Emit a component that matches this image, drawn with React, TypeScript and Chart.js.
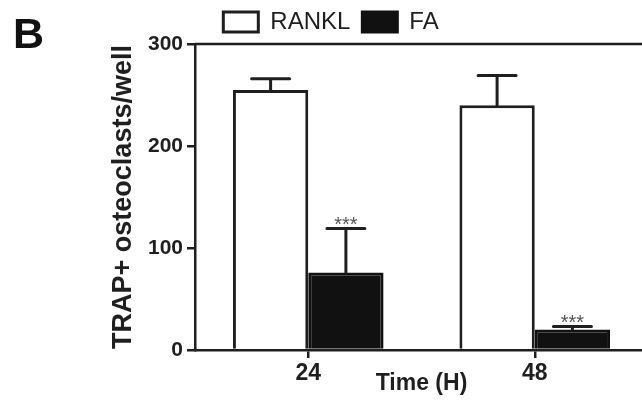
import React, { useEffect, useRef } from "react";
import { Chart, registerables } from "chart.js";

Chart.register(...registerables);

const categories = ["24", "48"];
const ranklValues = [255, 240];
const ranklErrors = [11, 29];
const faValues = [76, 20];
const faErrors = [43, 3];
const faSignificance = ["***", "***"];
const yTicks = [0, 100, 200, 300];
const panelLabel = "B";

const FONT = "'Liberation Sans', Arial, Helvetica, sans-serif";
const INK = "#1f1f1f";

const errorBarPlugin = {
  id: "errorBars",
  afterDatasetsDraw(chart: any) {
    const ctx = chart.ctx;
    const yScale = chart.scales.y;
    chart.data.datasets.forEach((ds: any, di: number) => {
      const meta = chart.getDatasetMeta(di);
      meta.data.forEach((bar: any, i: number) => {
        const v = ds.data[i];
        const e = ds.errors[i];
        const yBar = yScale.getPixelForValue(v);
        const yTop = yScale.getPixelForValue(v + e);
        ctx.save();
        ctx.strokeStyle = INK;
        ctx.lineWidth = 3;
        ctx.lineCap = "round";
        ctx.beginPath();
        ctx.moveTo(bar.x, yBar);
        ctx.lineTo(bar.x, yTop);
        ctx.moveTo(bar.x - 19, yTop);
        ctx.lineTo(bar.x + 19, yTop);
        ctx.stroke();
        if (ds.sig && ds.sig[i]) {
          ctx.fillStyle = "#555";
          ctx.font = `20px ${FONT}`;
          ctx.textAlign = "center";
          ctx.textBaseline = "alphabetic";
          ctx.fillText(ds.sig[i], bar.x, yTop + 2);
        }
        ctx.restore();
      });
    });
  },
};

const framePlugin = {
  id: "frame",
  afterDraw(chart: any) {
    const ctx = chart.ctx;
    const a = chart.chartArea;
    ctx.save();
    ctx.strokeStyle = INK;
    ctx.lineWidth = 2.5;
    ctx.beginPath();
    ctx.moveTo(a.left, a.top);
    ctx.lineTo(a.right, a.top);
    ctx.stroke();
    ctx.fillStyle = "#111";
    ctx.font = `bold 43px ${FONT}`;
    ctx.textAlign = "left";
    ctx.textBaseline = "alphabetic";
    ctx.fillText(panelLabel, 13, 48);
    ctx.restore();
  },
};

export default function App() {
  const ref = useRef<HTMLCanvasElement>(null);

  useEffect(() => {
    document.body.style.margin = "0";
    const chart = new Chart(ref.current as HTMLCanvasElement, {
      type: "bar",
      data: {
        labels: categories,
        datasets: [
          {
            label: "RANKL",
            data: ranklValues,
            errors: ranklErrors,
            backgroundColor: "#ffffff",
            borderColor: INK,
            borderWidth: 3,
            borderSkipped: "bottom",
          } as any,
          {
            label: "FA",
            data: faValues,
            errors: faErrors,
            sig: faSignificance,
            backgroundColor: "#111111",
            borderColor: "#111111",
            borderWidth: 3,
            borderSkipped: "bottom",
          } as any,
        ],
      },
      options: {
        responsive: false,
        animation: false,
        datasets: { bar: { categoryPercentage: 0.665, barPercentage: 1.0 } },
        layout: { padding: { left: 14, right: 12, top: -2, bottom: 0 } },
        plugins: {
          legend: {
            position: "top",
            labels: {
              boxWidth: 35,
              boxHeight: 20,
              padding: 12,
              color: INK,
              font: { family: FONT, size: 24 },
            },
          },
          tooltip: { enabled: false },
        },
        scales: {
          x: {
            offset: true,
            grid: {
              display: true,
              drawOnChartArea: false,
              drawTicks: true,
              tickLength: 8,
              offset: false,
              color: INK,
              lineWidth: 2.5,
            },
            border: { color: INK, width: 2.5 },
            ticks: {
              color: INK,
              padding: 2,
              font: { family: FONT, size: 23, weight: "bold" },
            },
            title: {
              display: true,
              text: "Time (H)",
              color: INK,
              font: { family: FONT, size: 23, weight: "bold" },
              padding: { top: 0, bottom: 8 },
            },
            afterFit: (s: any) => {
              s.height = 55;
            },
          },
          y: {
            min: 0,
            max: 300,
            afterBuildTicks: (s: any) => {
              s.ticks = yTicks.map((v) => ({ value: v }));
            },
            grid: {
              display: true,
              drawOnChartArea: false,
              drawTicks: true,
              tickLength: 8,
              color: INK,
              lineWidth: 2.5,
            },
            border: { color: INK, width: 2.5 },
            ticks: {
              color: INK,
              padding: 4,
              font: { family: FONT, size: 21, weight: "bold" },
            },
            title: {
              display: true,
              text: "TRAP+ osteoclasts/well",
              color: INK,
              font: { family: FONT, size: 27, weight: "bold" },
              padding: { top: 93, bottom: 0 },
            },
            afterFit: (s: any) => {
              s.width = 181;
            },
          },
        },
      } as any,
      plugins: [errorBarPlugin, framePlugin],
    });
    return () => chart.destroy();
  }, []);

  return (
    <div
      style={{
        position: "fixed",
        left: 0,
        top: 0,
        width: 642,
        height: 405,
        overflow: "hidden",
        background: "#fff",
      }}
    >
      <canvas ref={ref} width={660} height={405} style={{ display: "block" }} />
    </div>
  );
}
